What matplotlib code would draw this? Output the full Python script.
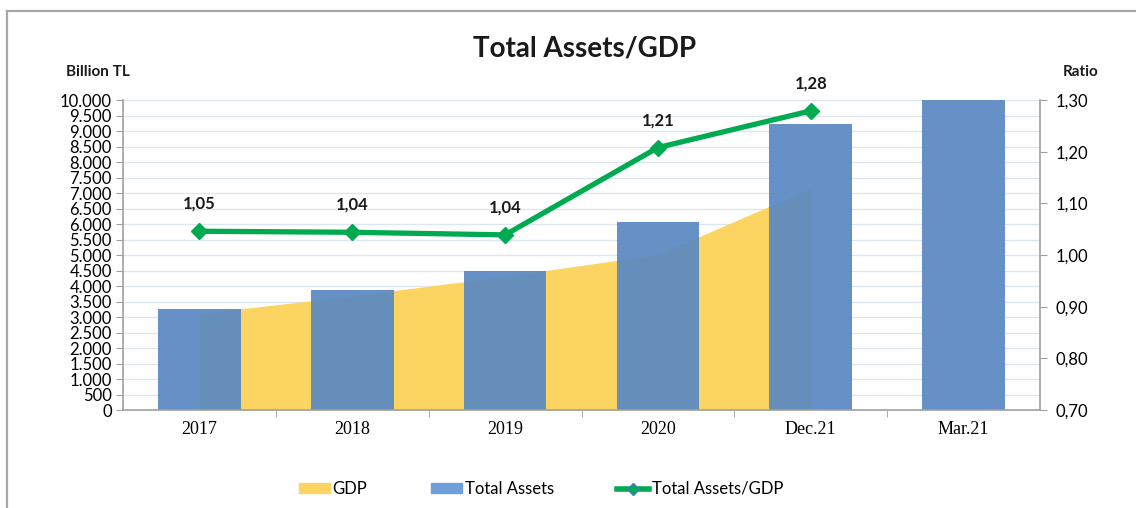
import matplotlib.pyplot as plt
from matplotlib.lines import Line2D
from matplotlib.patches import Patch
from matplotlib.ticker import FuncFormatter

# data
periods = ['2017', '2018', '2019', '2020', 'Dec.21', 'Mar.21']
total_assets = [3250, 3860, 4470, 6080, 9220, 10000]
gdp = [3110, 3680, 4310, 5020, 7150]
ratio = [1.046, 1.044, 1.039, 1.208, 1.279]

yellow = '#FCD462'
blue = '#5B89C2'
green = '#00AA50'
grey = '#A0A0A0'

plt.rcParams['font.family'] = ['Lato', 'DejaVu Sans']

fig = plt.figure(figsize=(11.36, 5.08), dpi=100)
ax = fig.add_axes([0.1083, 0.1929, 0.8072, 0.6102])
ax2 = ax.twinx()

x = list(range(len(periods)))

# GDP area (from first to fifth category centre)
ax.fill_between(x[:len(gdp)], gdp, 0, color=yellow, lw=0, zorder=1)
# total assets bars
ax.bar(x, total_assets, width=0.54, color=blue, alpha=0.93, zorder=2)

ax.set_xlim(-0.5, len(periods) - 0.5)
ax.set_ylim(0, 10000)
ax.set_yticks(range(0, 10001, 500))
ax.yaxis.set_major_formatter(FuncFormatter(lambda v, p: f'{int(v):,}'.replace(',', '.')))
ax.grid(axis='y', color='#DCE6F2', lw=1)
ax.set_axisbelow(True)

ax.set_xticks(x)
ax.set_xticklabels(periods, family='Liberation Serif', fontsize=13)
ax.set_xticks([i + 0.5 for i in x[:-1]], minor=True)
ax.tick_params(axis='x', which='major', length=0, pad=8)
ax.tick_params(axis='x', which='minor', length=5, color=grey, direction='out')
ax.tick_params(axis='y', labelsize=12, length=5, color=grey, pad=3)

# ratio line on the right axis
ax2.plot(x[:len(ratio)], ratio, color=green, lw=3.8, marker='D', markersize=8, zorder=5)
for xi, r in zip(x, ratio):
    ax2.annotate(f'{r:.2f}'.replace('.', ','), (xi, r), xytext=(0, 14),
                 textcoords='offset points', ha='center', va='bottom',
                 fontsize=12, fontweight='bold', color='#1A1A1A')
ax2.set_ylim(0.7, 1.3)
ax2.set_yticks([0.7, 0.8, 0.9, 1.0, 1.1, 1.2, 1.3])
ax2.yaxis.set_major_formatter(FuncFormatter(lambda v, p: f'{v:.2f}'.replace('.', ',')))
ax2.tick_params(axis='y', labelsize=12, length=5, color=grey, pad=6)

for a in (ax, ax2):
    a.spines['top'].set_visible(False)
    for s in ('left', 'right', 'bottom'):
        a.spines[s].set_color(grey)
        a.spines[s].set_linewidth(1.2)
ax.spines['right'].set_visible(False)
ax2.spines['left'].set_visible(False)
ax2.spines['bottom'].set_visible(False)

fig.text(0.515, 1 - 48 / 508, 'Total Assets/GDP', ha='center', va='center',
         fontsize=20, fontweight='bold', color='#1A1A1A')
fig.text(0.0865, 1 - 72 / 508, 'Billion TL', ha='center', va='center',
         fontsize=11, fontweight='bold', color='#1A1A1A')
fig.text(0.951, 1 - 72 / 508, 'Ratio', ha='center', va='center',
         fontsize=11, fontweight='bold', color='#1A1A1A')

handles = [Patch(color=yellow), Patch(color='#6FA0DA'),
           Line2D([], [], color=green, lw=4, marker='D', markersize=6,
                  markerfacecolor=green, markeredgecolor='#3F7FBF')]
fig.legend(handles, ['GDP', 'Total Assets', 'Total Assets/GDP'], ncol=3,
           loc='center', bbox_to_anchor=(0.476, 1 - 489 / 508), frameon=False,
           fontsize=12, handlelength=1.9, handleheight=0.5, handletextpad=0.15,
           columnspacing=3.8)

# outer frame
fig.add_artist(Line2D([7 / 1136, 7 / 1136], [0, 1 - 11 / 508], color='#A6A6A6', lw=1.6,
                      transform=fig.transFigure))
fig.add_artist(Line2D([7 / 1136, 1], [1 - 11 / 508, 1 - 11 / 508], color='#A6A6A6', lw=1.6,
                      transform=fig.transFigure))

fig.savefig('out.png', dpi=100)
